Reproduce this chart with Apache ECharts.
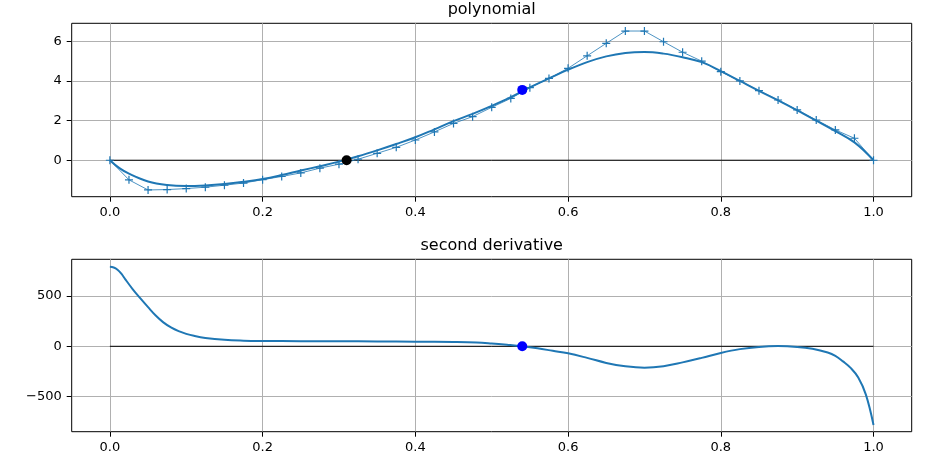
<!DOCTYPE html>
<html>
<head>
<meta charset="utf-8">
<script src="https://cdn.jsdelivr.net/npm/echarts@6/dist/echarts.min.js"></script>
<style>
html,body{margin:0;padding:0;background:#fff;}
#chart{width:925px;height:457px;}
</style>
</head>
<body>
<div id="chart"></div>
<script>
// ---- data ----
const sampleX = [0,0.025,0.05,0.075,0.1,0.125,0.15,0.175,0.2,0.225,0.25,0.275,0.3,0.325,0.35,0.375,0.4,0.425,0.45,0.475,0.5,0.525,0.55,0.575,0.6,0.625,0.65,0.675,0.7,0.725,0.75,0.775,0.8,0.825,0.85,0.875,0.9,0.925,0.95,0.975,1.0];
const sampleY = [0,-0.99,-1.5,-1.48,-1.43,-1.36,-1.26,-1.15,-0.98,-0.82,-0.64,-0.4,-0.2,0.05,0.35,0.65,1.02,1.43,1.86,2.2,2.67,3.12,3.66,4.13,4.64,5.27,5.9,6.52,6.52,5.98,5.45,5.0,4.47,4.0,3.51,3.04,2.54,2.03,1.53,1.11,0];

const fitX = [0,0.0125,0.025,0.05,0.075,0.1,0.125,0.15,0.175,0.2,0.225,0.25,0.275,0.3,0.325,0.35,0.375,0.4,0.425,0.45,0.475,0.5,0.525,0.55,0.575,0.6,0.625,0.65,0.675,0.7,0.725,0.75,0.775,0.8,0.825,0.85,0.875,0.9,0.925,0.95,0.975,1.0];
const fitY = [0,-0.4,-0.68,-1.07,-1.25,-1.3,-1.27,-1.2,-1.09,-0.95,-0.75,-0.52,-0.3,-0.07,0.2,0.5,0.82,1.16,1.56,1.97,2.34,2.74,3.18,3.68,4.13,4.57,4.95,5.24,5.41,5.46,5.38,5.2,4.95,4.5,4.0,3.5,3.02,2.52,2.0,1.47,0.9,0];

const d2X = [0,0.005,0.01,0.015,0.02,0.03,0.04,0.05,0.06,0.07,0.08,0.09,0.1,0.11,0.125,0.15,0.175,0.2,0.25,0.3,0.35,0.4,0.45,0.48,0.5,0.52,0.54,0.56,0.58,0.6,0.625,0.65,0.675,0.7,0.725,0.75,0.775,0.8,0.825,0.85,0.875,0.9,0.92,0.94,0.95,0.96,0.97,0.98,0.99,1.0];
const d2Y = [790,784,762,722,668,567,476,389,306,238,188,151,124,104,83,64,56,53,51,50,48,46,43,38,28,15,0,-20,-45,-70,-115,-165,-198,-212,-198,-160,-115,-66,-28,-6,2,-6,-25,-62,-95,-150,-215,-310,-480,-782];

const zeroPoint = [0.31, 0];
const inflectTop = [0.54, 3.55];
const inflectBottom = [0.54, 0];

const xTicks = [0, 0.2, 0.4, 0.6, 0.8, 1.0];
const yTicksTop = [0, 2, 4, 6];
const yTicksBottom = [-500, 0, 500];
const titles = ['polynomial', 'second derivative'];

// ---- chart ----
const zip = (a, b) => a.map((v, i) => [v, b[i]]);
const BLUE = '#1f77b4';
const FONT = 'DejaVu Sans';
const gridLine = { show: true, lineStyle: { color: '#b0b0b0', width: 1 } };

function xAxis(gi) {
  return {
    type: 'value', gridIndex: gi, min: -0.05, max: 1.05,
    axisLine: { show: false, onZero: false },
    axisTick: { show: true, length: 5, customValues: xTicks, lineStyle: { color: '#000' } },
    axisLabel: { customValues: xTicks, color: '#000', fontFamily: FONT, fontSize: 13, margin: 9,
      formatter: v => v.toFixed(1) },
    splitLine: gridLine
  };
}
function yAxis(gi, min, max, ticks) {
  return {
    type: 'value', gridIndex: gi, min: min, max: max,
    axisLine: { show: false, onZero: false },
    axisTick: { show: true, length: 5, customValues: ticks, lineStyle: { color: '#000' } },
    axisLabel: { customValues: ticks, color: '#000', fontFamily: FONT, fontSize: 13, margin: 10,
      formatter: v => (v < 0 ? '\u2212' + Math.abs(v) : String(v)) },
    splitLine: gridLine
  };
}

const chart = echarts.init(document.getElementById('chart'), null, { renderer: 'canvas' });
chart.setOption({
  animation: false,
  backgroundColor: '#fff',
  textStyle: { fontFamily: FONT },
  grid: [
    { left: 71.7, right: 13.3, top: 23.3, height: 173.4, show: true, borderColor: '#000', borderWidth: 1, backgroundColor: 'transparent' },
    { left: 71.7, right: 13.3, top: 259.3, height: 172.4, show: true, borderColor: '#000', borderWidth: 1, backgroundColor: 'transparent' }
  ],
  xAxis: [xAxis(0), xAxis(1)],
  yAxis: [yAxis(0, -1.84, 6.91, yTicksTop), yAxis(1, -849, 865, yTicksBottom)],
  graphic: [
    { type: 'text', x: 491.7, y: 18, style: { text: titles[0], align: 'center', verticalAlign: 'bottom', fontFamily: FONT, fontSize: 16, fill: '#000' } },
    { type: 'text', x: 491.7, y: 254, style: { text: titles[1], align: 'center', verticalAlign: 'bottom', fontFamily: FONT, fontSize: 16, fill: '#000' } }
  ],
  series: [
    { type: 'line', xAxisIndex: 0, yAxisIndex: 0, data: [[0, 0], [1, 0]], symbol: 'none',
      lineStyle: { color: '#000', width: 1 }, z: 1, silent: true },
    { type: 'line', xAxisIndex: 0, yAxisIndex: 0, data: zip(sampleX, sampleY),
      symbol: 'path://M0,-1L0,1M-1,0L1,0', symbolSize: 8,
      itemStyle: { color: 'none', borderColor: BLUE, borderWidth: 1.2 },
      lineStyle: { color: BLUE, width: 0.8 }, z: 2 },
    { type: 'line', xAxisIndex: 0, yAxisIndex: 0, data: zip(fitX, fitY), symbol: 'none', smooth: 0.4,
      lineStyle: { color: BLUE, width: 2 }, z: 3 },
    { type: 'scatter', xAxisIndex: 0, yAxisIndex: 0, data: [zeroPoint], symbolSize: 10,
      itemStyle: { color: '#000', opacity: 1 }, z: 4 },
    { type: 'scatter', xAxisIndex: 0, yAxisIndex: 0, data: [inflectTop], symbolSize: 10,
      itemStyle: { color: '#0000ff', opacity: 1 }, z: 4 },

    { type: 'line', xAxisIndex: 1, yAxisIndex: 1, data: [[0, 0], [1, 0]], symbol: 'none',
      lineStyle: { color: '#000', width: 1 }, z: 1, silent: true },
    { type: 'line', xAxisIndex: 1, yAxisIndex: 1, data: zip(d2X, d2Y), symbol: 'none', smooth: 0.4,
      lineStyle: { color: BLUE, width: 2 }, z: 3 },
    { type: 'scatter', xAxisIndex: 1, yAxisIndex: 1, data: [inflectBottom], symbolSize: 10,
      itemStyle: { color: '#0000ff', opacity: 1 }, z: 4 }
  ]
});
</script>
</body>
</html>
